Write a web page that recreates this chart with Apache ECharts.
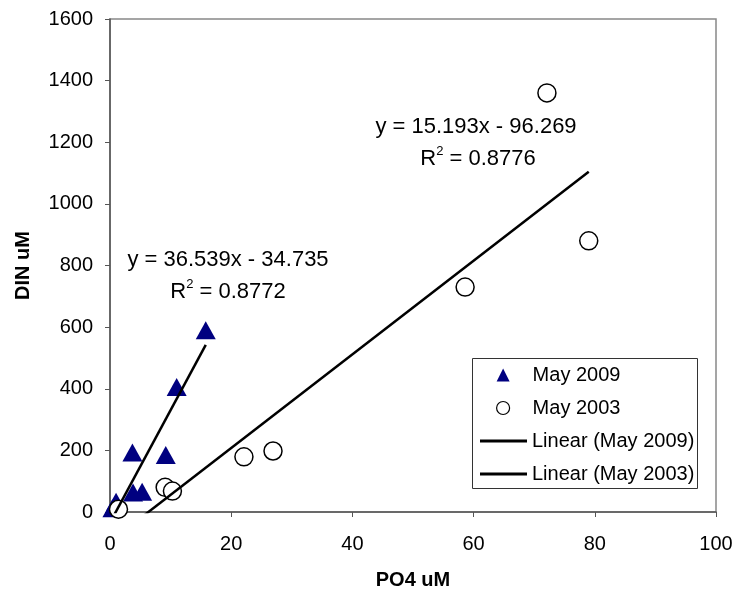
<!DOCTYPE html>
<html>
<head>
<meta charset="utf-8">
<script src="https://cdn.jsdelivr.net/npm/echarts@6/dist/echarts.min.js"></script>
<style>
  html, body { margin: 0; padding: 0; background: #fff; }
  #chart { width: 738px; height: 589px; }
</style>
</head>
<body>
<div id="chart"></div>
<script>
// PO4 vs DIN samples for each survey
var may2009PO4 = [0.4, 1.0, 3.8, 5.3, 3.7, 9.2, 11.0, 15.8];
var may2009DIN = [12, 33, 63, 66, 193, 185, 406, 590];
var may2003PO4 = [1.4, 9.1, 10.3, 22.1, 26.9, 58.6, 72.1, 79.0];
var may2003DIN = [9, 80, 68, 179, 198, 730, 1360, 880];

// Linear fits (slope, intercept, R squared)
var fit2009 = { slope: 36.539, intercept: -34.735, r2: '0.8772' };
var fit2003 = { slope: 15.193, intercept: -96.269, r2: '0.8776' };

var seriesNames = ['May 2009', 'May 2003', 'Linear (May 2009)', 'Linear (May 2003)'];

function pairs(xs, ys) {
  return xs.map(function (x, i) { return [x, ys[i]]; });
}
// Fitted line across the sampled PO4 range
function fitLine(xs, fit) {
  var lo = Math.min.apply(null, xs), hi = Math.max.apply(null, xs);
  return [lo, hi].map(function (x) { return [x, fit.slope * x + fit.intercept]; });
}
function eqText(fit) {
  return 'y = ' + fit.slope.toFixed(3) + 'x - ' + Math.abs(fit.intercept).toFixed(3);
}

var font = '"Liberation Sans", Arial, sans-serif';
var chart = echarts.init(document.getElementById('chart'), null, { renderer: 'canvas' });

var axisCommon = {
  axisLine: { show: true, onZero: false, lineStyle: { color: '#555', width: 1.5 } },
  axisTick: { show: true, inside: false, length: 5, lineStyle: { color: '#555', width: 1 } },
  splitLine: { show: false },
  nameTextStyle: { fontFamily: font, fontSize: 20, fontWeight: 'bold', color: '#000' }
};

var eqStyle = {
  fontFamily: font, fontSize: 22, fill: '#000',
  rich: {
    n: { fontFamily: font, fontSize: 22, color: '#000' },
    s: { fontFamily: font, fontSize: 13, color: '#000', verticalAlign: 'top', padding: [0, 0, 16, 0] }
  }
};

chart.setOption({
  animation: false,
  backgroundColor: '#fff',
  grid: {
    left: 110, right: 22, top: 19, bottom: 77,
    containLabel: false, outerBoundsMode: 'none',
    show: true, borderColor: '#888', borderWidth: 1.5, backgroundColor: '#fff'
  },
  xAxis: Object.assign({}, axisCommon, {
    type: 'value', min: 0, max: 100, interval: 20,
    name: 'PO4 uM', nameLocation: 'middle', nameGap: 58,
    axisLabel: { margin: 22, fontFamily: font, fontSize: 20, color: '#000' }
  }),
  yAxis: Object.assign({}, axisCommon, {
    type: 'value', min: 0, max: 1600, interval: 200,
    name: 'DIN uM', nameLocation: 'middle', nameGap: 77,
    axisLabel: { margin: 17, fontFamily: font, fontSize: 20, color: '#000',
      formatter: function (v) { return String(v); } }
  }),
  legend: [
    {
      data: [
        { name: seriesNames[0], icon: 'triangle', itemStyle: { color: '#000080' } },
        { name: seriesNames[1], icon: 'circle', itemStyle: { color: '#fff', borderColor: '#000', borderWidth: 1.2 } }
      ],
      orient: 'vertical', left: 496, top: 365, padding: 0,
      itemWidth: 13, itemHeight: 13, itemGap: 13,
      selectedMode: false,
      textStyle: { fontFamily: font, fontSize: 20, color: '#000', padding: [0, 0, 0, 18] }
    },
    {
      data: [
        { name: seriesNames[2], icon: 'rect', itemStyle: { color: '#000' } },
        { name: seriesNames[3], icon: 'rect', itemStyle: { color: '#000' } }
      ],
      orient: 'vertical', left: 480, top: 431, padding: 0,
      itemWidth: 47, itemHeight: 3, itemGap: 13,
      selectedMode: false,
      textStyle: { fontFamily: font, fontSize: 20, color: '#000' }
    }
  ],
  series: [
    {
      name: seriesNames[0], type: 'scatter', symbol: 'triangle', symbolSize: [20, 18],
      itemStyle: { color: '#000080', opacity: 1 }, z: 3,
      data: pairs(may2009PO4, may2009DIN)
    },
    {
      name: seriesNames[1], type: 'scatter', symbol: 'circle', symbolSize: 18,
      itemStyle: { color: '#fff', borderColor: '#000', borderWidth: 1.5, opacity: 1 }, z: 4,
      data: pairs(may2003PO4, may2003DIN)
    },
    {
      name: seriesNames[2], type: 'line', symbol: 'none', clip: true, z: 5,
      lineStyle: { color: '#000', width: 2.5 }, itemStyle: { color: '#000' },
      data: fitLine(may2009PO4, fit2009)
    },
    {
      name: seriesNames[3], type: 'line', symbol: 'none', clip: true, z: 5,
      lineStyle: { color: '#000', width: 2.5 }, itemStyle: { color: '#000' },
      data: fitLine(may2003PO4, fit2003)
    }
  ],
  // Legend frame and the equation / R² annotations beside each fitted line
  graphic: [
    {
      type: 'rect', left: 472, top: 358, z: 50, silent: true,
      shape: { width: 225, height: 130 },
      style: { fill: 'rgba(0,0,0,0)', stroke: '#333', lineWidth: 1 }
    },
    { type: 'text', z: 60, x: 228, y: 260,
      style: Object.assign({ text: eqText(fit2009), align: 'center', verticalAlign: 'middle' }, eqStyle) },
    { type: 'text', z: 60, x: 228, y: 292,
      style: Object.assign({ text: '{n|R}{s|2}{n| = ' + fit2009.r2 + '}', align: 'center', verticalAlign: 'middle' }, eqStyle) },
    { type: 'text', z: 60, x: 476, y: 127,
      style: Object.assign({ text: eqText(fit2003), align: 'center', verticalAlign: 'middle' }, eqStyle) },
    { type: 'text', z: 60, x: 478, y: 159,
      style: Object.assign({ text: '{n|R}{s|2}{n| = ' + fit2003.r2 + '}', align: 'center', verticalAlign: 'middle' }, eqStyle) }
  ]
});
</script>
</body>
</html>
